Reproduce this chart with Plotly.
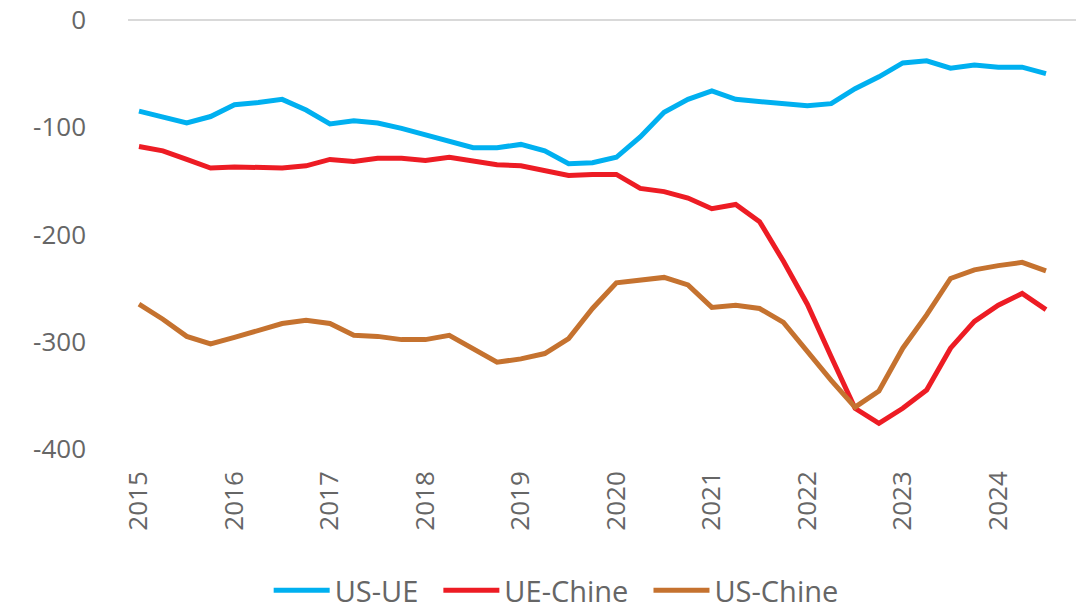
import plotly.graph_objects as go

quarters = list(range(39))  # 2015Q1 .. 2024Q3
year_labels = ["2015", "2016", "2017", "2018", "2019", "2020", "2021", "2022", "2023", "2024"]
year_pos = [0, 4, 8, 12, 16, 20, 24, 28, 32, 36]
y_ticks = [0, -100, -200, -300, -400]
y_labels = ["0", "-100", "-200", "-300", "-400"]

us_ue = [-85, -90, -96, -90, -79, -77, -74, -84, -97, -94, -96, -101, -107,
         -114, -119, -119, -116, -122, -134, -133, -128, -109, -86, -74, -66,
         -74, -76, -78, -80, -78, -64, -53, -40, -38, -45, -42, -44, -44, -50]
ue_chine = [-118, -122, -130, -138, -137, -138, -138, -136, -130, -132, -129, -129, -131,
            -128, -131, -135, -136, -141, -145, -144, -144, -157, -160, -166, -176,
            -172, -188, -225, -265, -314, -362, -376, -362, -345, -306, -281, -266, -255, -270]
us_chine = [-265, -279, -295, -302, -296, -290, -283, -280, -283, -294, -295, -298, -298,
            -294, -306, -319, -316, -311, -297, -269, -245, -242, -240, -247, -268,
            -266, -269, -282, -309, -336, -361, -346, -306, -275, -241, -233, -229, -226, -234]

series = [("US-UE", us_ue, "#00B0F0"),
          ("UE-Chine", ue_chine, "#ED1C24"),
          ("US-Chine", us_chine, "#C5722F")]

fig = go.Figure()
for name, vals, col in series:
    fig.add_trace(go.Scatter(x=quarters, y=vals, name=name + "\u00a0\u00a0", mode="lines",
                             line=dict(color=col, width=5)))

font_fam = "Open Sans, sans-serif"
fig.update_layout(
    width=1084, height=608,
    margin=dict(l=120, r=9, t=12, b=167),
    paper_bgcolor="white", plot_bgcolor="white",
    font=dict(family=font_fam, color="#666666", size=26),
    showlegend=True,
    legend=dict(orientation="h", x=0.4562, xanchor="center",
                yref="container", y=0.0, yanchor="bottom",
                font=dict(size=29, color="#666666"), itemwidth=56, tracegroupgap=0),
    xaxis=dict(range=[-0.46, 39.55], tickvals=year_pos, ticktext=year_labels,
               tickangle=-90, showgrid=False, zeroline=False, showline=False,
               ticklabelstandoff=16, tickfont=dict(size=26), automargin=False),
    yaxis=dict(range=[-400, 0], tickvals=y_ticks, ticktext=y_labels,
               showgrid=False, zeroline=True, zerolinecolor="#D9D9D9", zerolinewidth=2,
               showline=False, ticklabelstandoff=41, tickfont=dict(size=26),
               ticklabeloverflow="allow", automargin=False),
)
fig.write_html("out.html")
